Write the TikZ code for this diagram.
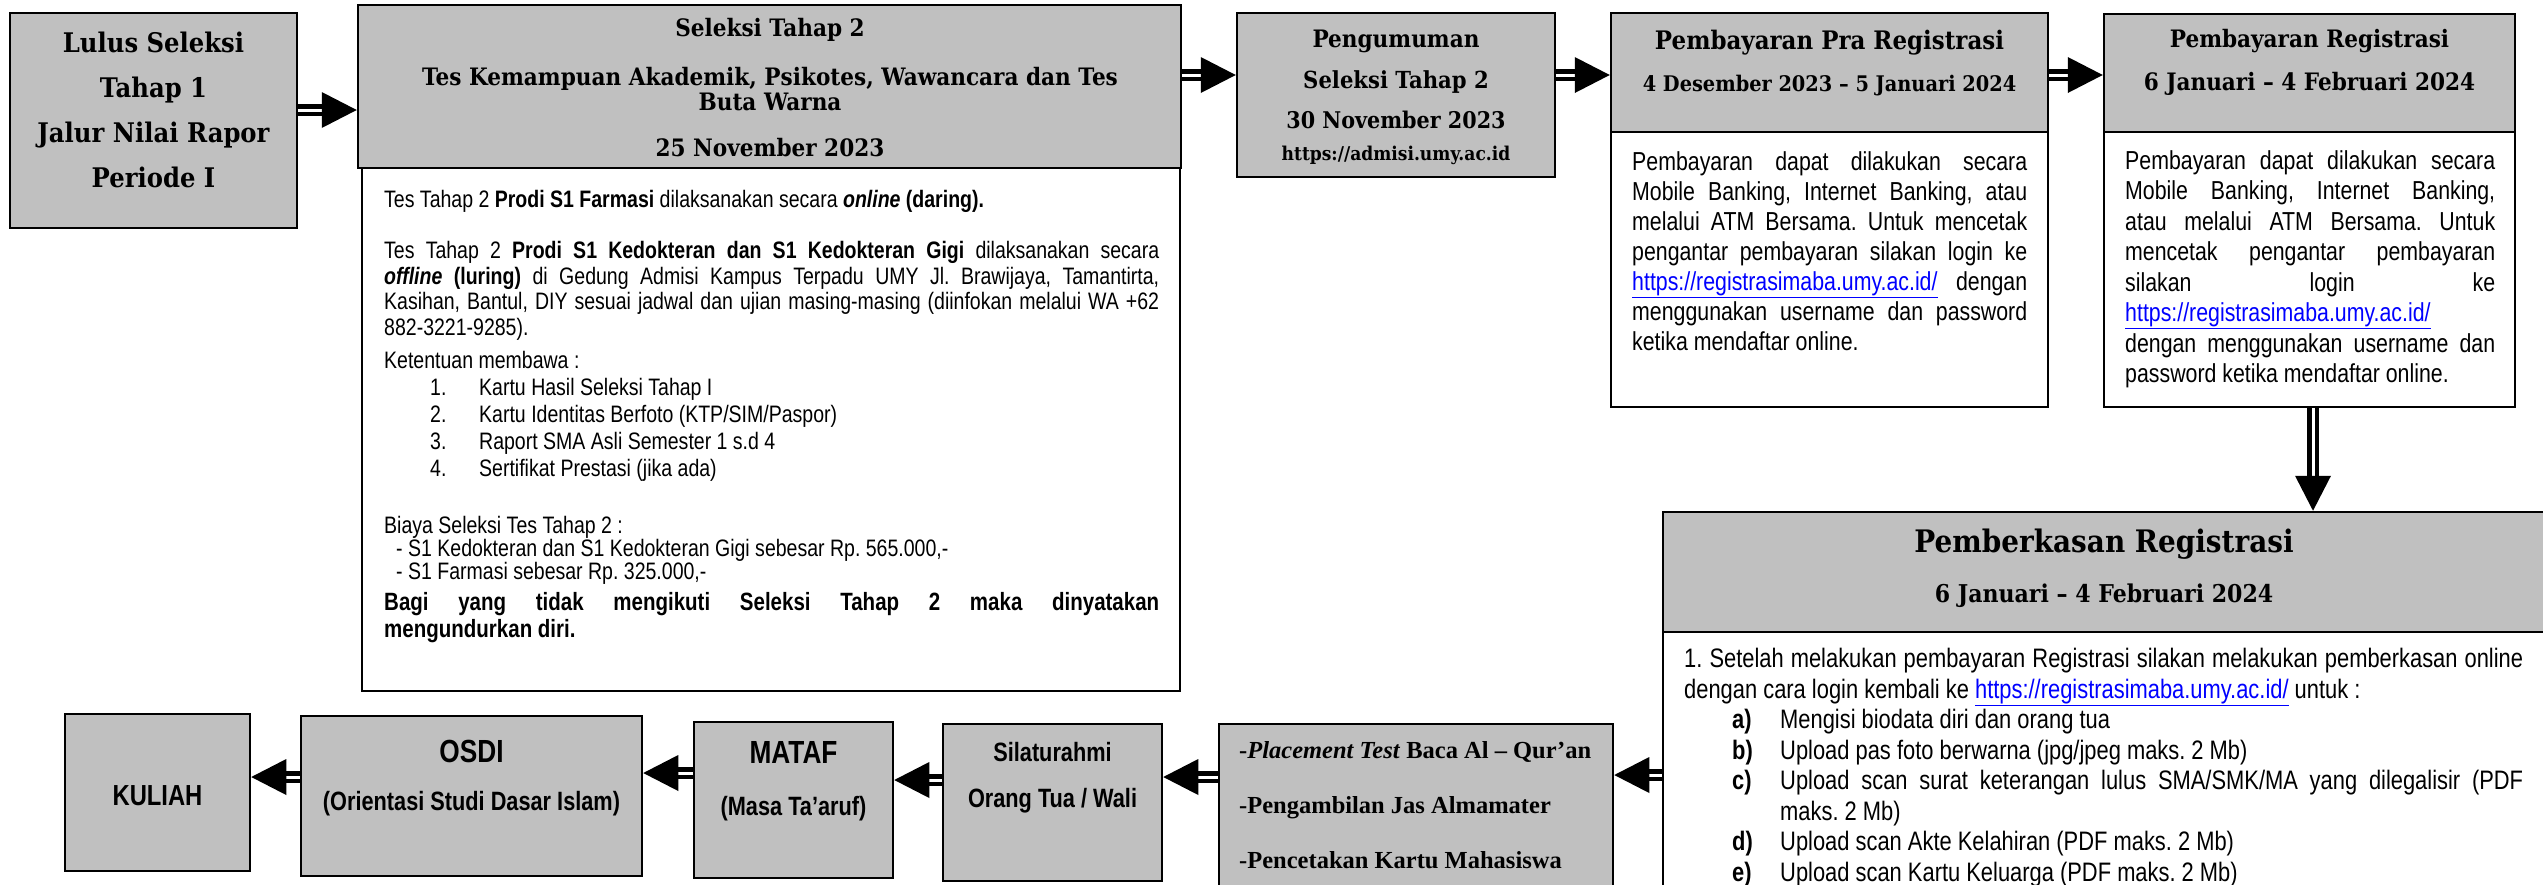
\documentclass[tikz,border=0pt]{standalone}
\usepackage{fontspec}
\usetikzlibrary{calc,fit}
\setmainfont{Liberation Sans}
\newfontfamily\nar[FakeStretch=0.82]{Liberation Sans}
\newfontfamily\geo[FakeStretch=0.9]{DejaVu Serif}
\newfontfamily\tnr{Liberation Serif}
\definecolor{boxgray}{HTML}{C0C0C0}
\definecolor{urlblue}{HTML}{0000FF}
\frenchspacing
\newcommand\gf[1]{\geo\bfseries\fontsize{#1}{#1}\selectfont}
\newcommand\nf[2]{\nar\fontsize{#1}{#2}\selectfont}
\newcommand\nb[1]{\nar\bfseries\fontsize{#1}{#1}\selectfont}
\newcommand\jl[2]{\makebox[#1][s]{#2}}
\newcommand\reglink{\textcolor{urlblue}{\underline{https://registrasimaba.umy.ac.id/}}}
\newcommand\dblarrow[2]{%
  \path ($(#2)!35pt!(#1)$) coordinate (hb);
  \draw[shaft] (#1) -- ($(#2)!32pt!(#1)$);
  \fill (#2) -- ($(hb)!18pt!90:(#2)$) -- ($(hb)!18pt!-90:(#2)$) -- cycle;}
\begin{document}
\begin{tikzpicture}[x=1pt,y=-1pt,
  graybox/.style={draw=black,line width=2.5pt,fill=boxgray,inner sep=0pt},
  whitebox/.style={draw=black,line width=2.5pt,fill=white,inner sep=0pt},
  shaft/.style={draw=black,line width=4.5pt,double=white,double distance=3pt},
  lbl/.style={inner sep=0pt,anchor=base},
  lblw/.style={inner sep=0pt,anchor=base west},
  para/.style={inner sep=0pt,anchor=north west,align=left}]
\useasboundingbox (0,0) rectangle (2543,884);
\fill[white] (0,0) rectangle (2543,884);

% boxes
\node[graybox,fit={(10,13)(297,228)}] (lulus) {};
\node[whitebox,fit={(362,168)(1180,691)}] (selw) {};
\node[graybox,fit={(358,5)(1181,168)}] (sel) {};
\node[graybox,fit={(1237,13)(1555,177)}] (peng) {};
\node[whitebox,fit={(1611,132)(2048,407)}] (prab) {};
\node[graybox,fit={(1611,13)(2048,132)}] (prah) {};
\node[whitebox,fit={(2104,132)(2515,407)}] (regb) {};
\node[graybox,fit={(2104,14)(2515,132)}] (regh) {};
\node[whitebox,fit={(1663,632)(2560,920)}] (berb) {};
\node[graybox,fit={(1663,512)(2560,632)}] (berh) {};
\node[graybox,fit={(1219,724)(1613,920)}] (place) {};
\node[graybox,fit={(943,724)(1162,881)}] (silat) {};
\node[graybox,fit={(694,722)(893,878)}] (mataf) {};
\node[graybox,fit={(301,716)(642,876)}] (osdi) {};
\node[graybox,fit={(65,714)(250,871)}] (kul) {};

% Lulus
\node[lbl,font={\gf{27}}] (lu1) at (153.5,52) {Lulus Seleksi};
\node[lbl,font={\gf{27}}] (lu2) at (153.5,97) {Tahap 1};
\node[lbl,font={\gf{27}}] (lu3) at (153.5,142) {Jalur Nilai Rapor};
\node[lbl,font={\gf{27}}] (lu4) at (153.5,187) {Periode I};

% Seleksi header
\node[lbl,font={\gf{24}}] (s1) at (770,36) {Seleksi Tahap 2};
\node[lbl,font={\gf{24}}] (s2) at (770,85) {Tes Kemampuan Akademik, Psikotes, Wawancara dan Tes};
\node[lbl,font={\gf{24}}] (s3) at (770,110) {Buta Warna};
\node[lbl,font={\gf{24}}] (s4) at (770,156) {25 November 2023};

% Seleksi body
\node[lblw,font={\nf{23.8}{25.7}}] (sw1) at (384,207) {Tes Tahap 2 \textbf{Prodi S1 Farmasi} dilaksanakan secara \textbf{\textit{online} (daring).}};
\node[para,font={\nf{23.8}{25.7}}] (sw2) at (384,241) {%
\jl{775pt}{Tes Tahap 2 \textbf{Prodi S1 Kedokteran dan S1 Kedokteran Gigi} dilaksanakan secara}\\
\jl{775pt}{\textbf{\textit{offline} (luring)} di Gedung Admisi Kampus Terpadu UMY Jl. Brawijaya, Tamantirta,}\\
\jl{775pt}{Kasihan, Bantul, DIY sesuai jadwal dan ujian masing-masing (diinfokan melalui WA +62}\\
882-3221-9285).};
\node[para,font={\nf{23.8}{27}}] (sw2b) at (384,351) {%
Ketentuan membawa :\\
\hspace*{46pt}\makebox[49pt][l]{1.}Kartu Hasil Seleksi Tahap I\\
\hspace*{46pt}\makebox[49pt][l]{2.}Kartu Identitas Berfoto (KTP/SIM/Paspor)\\
\hspace*{46pt}\makebox[49pt][l]{3.}Raport SMA Asli Semester 1 s.d 4\\
\hspace*{46pt}\makebox[49pt][l]{4.}Sertifikat Prestasi (jika ada)};
\node[para,font={\nf{23.8}{22}}] (sw3) at (384,516) {%
Biaya Seleksi Tes Tahap 2 :\\
\hspace*{12pt}- S1 Kedokteran dan S1 Kedokteran Gigi sebesar Rp. 565.000,-\\
\hspace*{12pt}- S1 Farmasi sebesar Rp. 325.000,-};
\node[para,font={\nar\bfseries\fontsize{25}{27}\selectfont}] (sw4) at (384,592) {%
\jl{775pt}{Bagi yang tidak mengikuti Seleksi Tahap 2 maka dinyatakan}\\
mengundurkan diri.};

% Pengumuman
\node[lbl,font={\gf{24}}] (pe1) at (1396,47) {Pengumuman};
\node[lbl,font={\gf{23.5}}] (pe2) at (1396,88) {Seleksi Tahap 2};
\node[lbl,font={\gf{23}}] (pe3) at (1396,128) {30 November 2023};
\node[lbl,font={\gf{19}}] (pe4) at (1396,160) {https://admisi.umy.ac.id};

% Pra registrasi
\node[lbl,font={\gf{25.5}}] (pr1) at (1829.5,49) {Pembayaran Pra Registrasi};
\node[lbl,font={\gf{21.5}}] (pr2) at (1829.5,91) {4 Desember 2023 – 5 Januari 2024};
\node[para,font={\nf{26}{30}}] (prt) at (1632,151) {%
\jl{395pt}{Pembayaran dapat dilakukan secara}\\
\jl{395pt}{Mobile Banking, Internet Banking, atau}\\
\jl{395pt}{melalui ATM Bersama. Untuk mencetak}\\
\jl{395pt}{pengantar pembayaran silakan login ke}\\
\jl{395pt}{\reglink{} dengan}\\
\jl{395pt}{menggunakan username dan password}\\
ketika mendaftar online.};

% Registrasi
\node[lbl,font={\gf{24}}] (rg1) at (2309.5,47) {Pembayaran Registrasi};
\node[lbl,font={\gf{24}}] (rg2) at (2309.5,90) {6 Januari – 4 Februari 2024};
\node[para,font={\nf{26}{30.5}}] (rgt) at (2125,150) {%
\jl{370pt}{Pembayaran dapat dilakukan secara}\\
\jl{370pt}{Mobile Banking, Internet Banking,}\\
\jl{370pt}{atau melalui ATM Bersama. Untuk}\\
\jl{370pt}{mencetak pengantar pembayaran}\\
\jl{370pt}{silakan login ke}\\
\reglink\\
\jl{370pt}{dengan menggunakan username dan}\\
password ketika mendaftar online.};

% Pemberkasan
\node[lbl,font={\gf{31}}] (br1) at (2104,552) {Pemberkasan Registrasi};
\node[lbl,font={\gf{24.5}}] (br2) at (2104,602) {6 Januari – 4 Februari 2024};
\node[para,font={\nf{26.7}{30.5}}] (brt) at (1684,648) {%
\jl{839pt}{1. Setelah melakukan pembayaran Registrasi silakan melakukan pemberkasan online}\\
dengan cara login kembali ke \reglink{} untuk :\\
\hspace*{48pt}\makebox[48pt][l]{\textbf{a)}}Mengisi biodata diri dan orang tua\\
\hspace*{48pt}\makebox[48pt][l]{\textbf{b)}}Upload pas foto berwarna (jpg/jpeg maks. 2 Mb)\\
\hspace*{48pt}\makebox[48pt][l]{\textbf{c)}}\jl{743pt}{Upload scan surat keterangan lulus SMA/SMK/MA yang dilegalisir (PDF}\\
\hspace*{96pt}maks. 2 Mb)\\
\hspace*{48pt}\makebox[48pt][l]{\textbf{d)}}Upload scan Akte Kelahiran (PDF maks. 2 Mb)\\
\hspace*{48pt}\makebox[48pt][l]{\textbf{e)}}Upload scan Kartu Keluarga (PDF maks. 2 Mb)};

% bottom row
\node[lblw,font={\tnr\bfseries\fontsize{24.5}{24.5}\selectfont}] (pl1) at (1239,758) {-\textit{Placement Test} Baca Al – Qur’an};
\node[lblw,font={\tnr\bfseries\fontsize{24.5}{24.5}\selectfont}] (pl2) at (1239,813) {-Pengambilan Jas Almamater};
\node[lblw,font={\tnr\bfseries\fontsize{24.5}{24.5}\selectfont}] (pl3) at (1239,868) {-Pencetakan Kartu Mahasiswa};
\node[lbl,font={\nb{26.5}}] (ts1) at (1052.5,761) {Silaturahmi};
\node[lbl,font={\nb{26.5}}] (ts2) at (1052.5,807) {Orang Tua / Wali};
\node[lbl,font={\nb{32}}] (tm1) at (793.5,763) {MATAF};
\node[lbl,font={\nb{26.5}}] (tm2) at (793.5,815) {(Masa Ta’aruf)};
\node[lbl,font={\nb{32}}] (to1) at (471.5,762) {OSDI};
\node[lbl,font={\nb{26.5}}] (to2) at (471.5,810) {(Orientasi Studi Dasar Islam)};
\node[lbl,font={\nb{29}}] (tk) at (157.5,805) {KULIAH};

% arrows
\coordinate (a1s) at ([yshift=10.5pt]lulus.east);
\coordinate (a1e) at (a1s -| sel.west);
\dblarrow{a1s}{a1e}
\coordinate (a2s) at ([yshift=11.5pt]sel.east);
\coordinate (a2e) at (a2s -| peng.west);
\dblarrow{a2s}{a2e}
\coordinate (a3s) at ([yshift=20pt]peng.east);
\coordinate (a3e) at (a3s -| prah.west);
\dblarrow{a3s}{a3e}
\coordinate (a4s) at ([yshift=-2.5pt]prah.east);
\coordinate (a4e) at (a4s -| regh.west);
\dblarrow{a4s}{a4e}
\coordinate (a5s) at ([xshift=3.5pt]regb.south);
\coordinate (a5e) at (a5s |- berh.north);
\dblarrow{a5s}{a5e}
\coordinate (a6s) at ([yshift=1pt]berb.west);
\coordinate (a6e) at (a6s -| place.east);
\dblarrow{a6s}{a6e}
\coordinate (a7s) at ([yshift=45pt]place.west);
\coordinate (a7e) at (a7s -| silat.east);
\dblarrow{a7s}{a7e}
\coordinate (a8s) at ([yshift=22.5pt]silat.west);
\coordinate (a8e) at (a8s -| mataf.east);
\dblarrow{a8s}{a8e}
\coordinate (a9s) at ([yshift=27pt]mataf.west);
\coordinate (a9e) at (a9s -| osdi.east);
\dblarrow{a9s}{a9e}
\coordinate (a10s) at ([yshift=19pt]osdi.west);
\coordinate (a10e) at (a10s -| kul.east);
\dblarrow{a10s}{a10e}
\end{tikzpicture}
\end{document}
